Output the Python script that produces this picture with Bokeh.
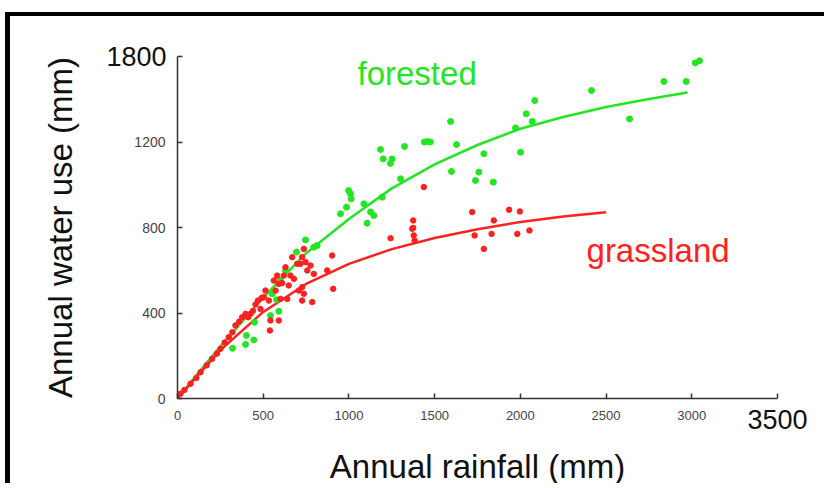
from bokeh.plotting import figure
from bokeh.models import Label, FixedTicker, Range1d, LinearAxis
from bokeh.embed import file_html
from bokeh.resources import INLINE

# ---- data ----
rain_ticks = [0, 500, 1000, 1500, 2000, 2500, 3000, 3500]
rain_tick_labels = ["0", "500", "1000", "1500", "2000", "2500", "3000", "3500"]
use_ticks = [0, 400, 800, 1200, 1600]
use_tick_labels = ["0", "400", "800", "1200", "1800"]

forest_curve_x = [0, 100, 250, 500, 750, 1000, 1250, 1500, 1750, 2000, 2250, 2500, 2750, 2975]
forest_curve_y = [0, 99, 244, 472, 680, 840, 983, 1095, 1186, 1262, 1317, 1364, 1401, 1432]
grass_curve_x = [0, 100, 250, 500, 750, 1000, 1250, 1500, 1750, 2000, 2250, 2500]
grass_curve_y = [0, 92, 226, 405, 536, 630, 699, 751, 792, 826, 851, 871]

forest_x = [3020, 3045, 2837, 2967, 2415, 2084, 2034, 2069, 1972, 2637, 2001, 1593, 1628,
            1787, 1758, 1738, 1842, 1598, 1440, 1458, 1475, 1324, 1184, 1200, 1252, 1242,
            1301, 1194, 1009, 1013, 998, 986, 951, 1087, 1126, 1145, 1106,
            747, 815, 795, 694, 630, 601, 578, 591, 542, 449, 402, 445, 397, 321, 552]
forest_y = [1570, 1580, 1483, 1483, 1441, 1394, 1332, 1296, 1266, 1308, 1152, 1296, 1188,
            1145, 1059, 1020, 1012, 1062, 1200, 1202, 1200, 1179, 1165, 1121, 1121, 1100,
            1028, 942, 958, 934, 973, 895, 864, 911, 873, 856, 820,
            742, 716, 708, 685, 599, 552, 462, 408, 388, 357, 295, 274, 253, 235, 490]

grass_x = [17, 40, 76, 110, 134, 170, 202, 230, 251, 275, 299, 320, 338, 360, 377, 397,
           426, 412, 469, 513, 533, 562, 581, 620, 591, 601, 640, 542, 591, 539, 649, 679,
           698, 717, 727, 747, 737, 757, 776, 669, 727, 737, 727, 795, 786, 873, 902, 908,
           659, 484, 503, 572, 630, 708, 440, 455, 490, 610,
           1243, 1369, 1378, 1437, 1375, 1375, 1383, 1719, 1733, 1787, 1832, 1845, 1934,
           1997, 1982, 2053]
grass_y = [22, 40, 69, 96, 123, 155, 186, 210, 233, 262, 287, 310, 342, 360, 380, 396,
           396, 380, 458, 505, 458, 552, 575, 575, 536, 466, 466, 365, 365, 318, 529, 560,
           630, 630, 661, 638, 700, 599, 622, 661, 521, 490, 458, 583, 451, 599, 669, 513,
           575, 419, 474, 505, 614, 505, 410, 440, 470, 540,
           750, 794, 763, 989, 833, 798, 739, 872, 763, 700, 770, 833, 883,
           875, 770, 786]

GREEN = "#22e622"
RED = "#ff2020"
FONT = "Liberation Sans"

p = figure(width=819, height=471,
           x_range=Range1d(0, 3500), y_range=Range1d(0, 1600),
           output_backend="svg", toolbar_location=None,
           min_border_left=167, min_border_right=52,
           min_border_top=40, min_border_bottom=89)
p.styles = {"border-top": "4px solid black", "border-left": "5px solid black",
            "margin-top": "12px", "margin-left": "5px"}
p.outline_line_color = None
p.xgrid.visible = False
p.ygrid.visible = False
p.background_fill_color = "white"
p.border_fill_color = "white"

p.line(forest_curve_x, forest_curve_y, line_color=GREEN, line_width=2.5)
p.line(grass_curve_x, grass_curve_y, line_color=RED, line_width=2.5)
p.scatter(forest_x, forest_y, size=6, fill_color=GREEN, line_color=GREEN)
p.scatter(grass_x, grass_y, size=5.5, fill_color=RED, line_color=RED)

# inner axes: small tick labels, the end label drawn by an outer axis
big_x = rain_tick_labels[-1]
big_y = use_tick_labels[-1]
p.xaxis.ticker = FixedTicker(ticks=rain_ticks)
p.xaxis.major_label_overrides = {t: (l if l != big_x else "") for t, l in zip(rain_ticks, rain_tick_labels)}
p.yaxis.ticker = FixedTicker(ticks=use_ticks)
p.yaxis.major_label_overrides = {t: (l if l != big_y else "") for t, l in zip(use_ticks, use_tick_labels)}

for ax in (p.xaxis, p.yaxis):
    ax.axis_line_color = "#333333"
    ax.axis_line_width = 1.5
    ax.major_tick_line_color = "#333333"
    ax.major_tick_line_width = 1.5
    ax.major_tick_in = 5
    ax.major_tick_out = 0
    ax.minor_tick_line_color = None
    ax.major_label_text_font = FONT
    ax.major_label_text_color = "#444444"
p.xaxis.major_label_text_font_size = "13px"
p.yaxis.major_label_text_font_size = "14px"
p.xaxis.major_label_standoff = 12
p.yaxis.major_label_standoff = 12

# outer axes: large end labels + axis titles
outer_y = LinearAxis(ticker=FixedTicker(ticks=[use_ticks[-1]]),
                     major_label_overrides={use_ticks[-1]: big_y},
                     axis_label="Annual water use (mm)")
outer_x = LinearAxis(ticker=FixedTicker(ticks=[rain_ticks[-1]]),
                     major_label_overrides={rain_ticks[-1]: big_x},
                     axis_label="Annual rainfall (mm)")
for ax in (outer_x, outer_y):
    ax.axis_line_color = None
    ax.major_tick_line_color = None
    ax.minor_tick_line_color = None
    ax.major_tick_in = 0
    ax.major_tick_out = 0
    ax.major_label_text_font = FONT
    ax.major_label_text_font_size = "27px"
    ax.major_label_text_color = "#111111"
    ax.axis_label_text_font = FONT
    ax.axis_label_text_font_size = "33px"
    ax.axis_label_text_font_style = "normal"
    ax.axis_label_text_color = "#111111"
outer_y.major_label_standoff = -35
outer_y.axis_label_standoff = 24
outer_x.major_label_standoff = -13
outer_x.axis_label_standoff = 16
p.add_layout(outer_y, "left")
p.add_layout(outer_x, "below")

p.add_layout(Label(x=1050, y=1520, text="forested", text_font=FONT, text_font_size="33px",
                   text_color=GREEN, text_baseline="alphabetic"))
p.add_layout(Label(x=2386, y=692, text="grassland", text_font=FONT, text_font_size="33px",
                   text_color=RED, text_baseline="alphabetic"))

open("out.html", "w").write(file_html(p, INLINE))
